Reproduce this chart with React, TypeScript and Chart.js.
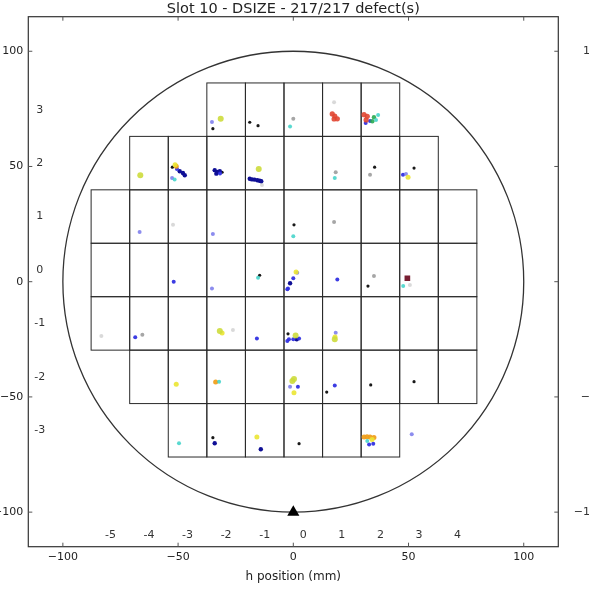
import React, { useEffect, useRef } from "react";
import { Chart, registerables } from "chart.js";

Chart.register(...registerables);

// ---------- text ----------
const titleText = "Slot 10 - DSIZE - 217/217 defect(s)";
const xAxisLabel = "h position (mm)";

// ---------- axes ----------
const axisMin = -115;
const axisMax = 115;
const axisTicks = [-100, -50, 0, 50, 100];
const neighbourTicks = [100, 50, 0, -50, -100];

// ---------- wafer / die layout (mm) ----------
const waferRadius = 100;
const notchPoint = [[0, -100]];
const dieWidth = 16.74;
const dieHeight = 23.19;
const dieOriginX = -4.04;
const dieOriginY = -6.51;
const dieRows = [3, 2, 1, 0, -1, -2, -3];
const dieColFirst = [-2, -4, -5, -5, -5, -4, -3];
const dieColLast = [2, 3, 4, 4, 4, 4, 2];
const colLabels = [-5, -4, -3, -2, -1, 0, 1, 2, 3, 4];
const rowLabels = [3, 2, 1, 0, -1, -2, -3];
const labelLine = -110;

// ---------- defects (x mm, y mm) ----------
const blackPts = [
  [-34.9, 66.4], [-18.9, 69.2], [-15.3, 67.7], [-52.5, 49.7], [-30.9, 47.5],
  [35.3, 49.7], [52.4, 49.3], [0.3, 24.7], [-14.6, 2.8], [32.4, -1.9],
  [-2.3, -22.6], [14.5, -47.9], [33.6, -44.8], [52.4, -43.4], [-34.9, -67.7], [2.5, -70.3],
];
const grayPts = [
  [0, 70.7], [33.3, 46.4], [17.7, 25.9], [35.0, 2.5], [-65.5, -23.0], [18.4, 47.5],
];
const faintPts = [
  [-52.2, 24.7], [-83.3, -23.6], [17.7, 77.9], [-26.2, -21.0], [-13.6, 42.0], [50.6, -1.4],
];
const darkBluePts = [
  [-49.3, 47.9], [-47.9, 47.2], [-47.1, 46.2], [-34.1, 48.4], [-33.0, 47.6], [-31.9, 47.9],
  [-33.4, 46.9], [-18.9, 44.7], [-17.9, 44.4], [-16.8, 44.3], [-15.6, 44.0], [-14.6, 43.8],
  [-13.9, 43.6], [-1.4, -0.7], [1.5, -25.0], [-14.1, -72.7], [-34.1, -70.1],
];
const bluePts = [
  [-50.5, 48.9], [-31.8, 47.0], [47.6, 46.4], [31.4, 68.9], [33.3, 69.7], [-51.9, 0.0],
  [0, 1.5], [-2.3, -3.0], [-2.6, -3.3], [19.1, 1.0], [-68.6, -24.1], [-15.8, -24.6],
  [-1.9, -25.0], [0, -25.0], [2.5, -24.7], [-2.6, -25.7], [2.0, -45.6], [18.0, -45.0],
  [32.9, -70.6], [34.7, -70.3],
];
const lavenderPts = [
  [-35.3, 69.3], [48.9, 46.7], [-66.7, 21.6], [-34.9, 20.7], [-35.3, -2.9], [1.7, 3.9],
  [18.4, -22.1], [-1.4, -45.6], [51.4, -66.2], [-52.6, 45.0],
];
const cyanPts = [
  [-1.4, 67.4], [35.9, 70.2], [36.8, 72.3], [-51.5, 44.3], [18.0, 45.0], [0, 19.7],
  [-15.3, 1.7], [47.7, -1.9], [-32.2, -43.4], [-49.6, -70.1], [32.1, -69.1],
];
const greenPts = [[35.0, 71.4], [34.3, 69.6]];
const yellowGreenPts = [
  [-31.5, 70.7], [-66.4, 46.2], [-15.0, 48.9], [-31.9, -21.4], [1.0, -23.3], [18.0, -25.0],
  [-0.4, -43.1], [0.3, -42.2],
];
const yellowPts = [
  [-51.3, 50.7], [49.8, 45.3], [1.2, 4.2], [-30.9, -22.3], [18.1, -24.0], [-50.8, -44.5],
  [0.3, -48.2], [-15.8, -67.4], [34.2, -68.5],
];
const orangePts = [
  [-50.8, 50.1], [-33.7, -43.5], [30.7, -67.4], [32.0, -67.3], [33.3, -67.4], [35.0, -67.6],
];
const redPts = [
  [16.9, 72.8], [18.0, 71.9], [19.1, 70.7], [17.7, 70.6], [30.7, 72.5], [32.1, 71.8], [31.6, 70.2],
];
const maroonPts = [[49.5, 1.5]];

const FONT = "'DejaVu Sans', sans-serif";
const fmt = (v: number) => (v < 0 ? "\u2212" + Math.abs(v) : String(v));
const toXY = (pts: number[][]) => pts.map(([x, y]) => ({ x, y }));

export default function App() {
  const ref = useRef<HTMLCanvasElement>(null);

  useEffect(() => {
    const canvas = ref.current;
    if (!canvas) return;

    const series = [
      { label: "faint", pts: faintPts, color: "rgba(170,170,170,0.45)", r: 2, style: "circle" },
      { label: "gray", pts: grayPts, color: "rgba(150,150,150,0.85)", r: 2, style: "circle" },
      { label: "cyan", pts: cyanPts, color: "rgba(60,210,200,0.85)", r: 2, style: "circle" },
      { label: "green", pts: greenPts, color: "rgba(40,170,80,0.9)", r: 2.2, style: "circle" },
      { label: "yellowgreen", pts: yellowGreenPts, color: "rgba(205,220,60,0.9)", r: 3, style: "circle" },
      { label: "yellow", pts: yellowPts, color: "rgba(235,230,50,0.9)", r: 2.5, style: "circle" },
      { label: "orange", pts: orangePts, color: "rgba(240,160,30,0.95)", r: 2.5, style: "circle" },
      { label: "red", pts: redPts, color: "rgba(225,70,50,0.9)", r: 2.6, style: "circle" },
      { label: "lavender", pts: lavenderPts, color: "rgba(120,120,235,0.85)", r: 2, style: "circle" },
      { label: "blue", pts: bluePts, color: "rgba(50,50,225,0.95)", r: 2, style: "circle" },
      { label: "darkblue", pts: darkBluePts, color: "rgba(15,15,150,1)", r: 2.2, style: "circle" },
      { label: "black", pts: blackPts, color: "rgba(25,25,25,1)", r: 1.6, style: "circle" },
      { label: "maroon", pts: maroonPts, color: "rgba(120,30,50,1)", r: 4, style: "rect" },
    ];

    const datasets: any[] = series.map((s) => ({
      label: s.label,
      data: toXY(s.pts),
      backgroundColor: s.color,
      borderWidth: 0,
      pointRadius: s.r,
      pointStyle: s.style,
    }));
    datasets.push({
      label: "notch",
      data: toXY(notchPoint),
      backgroundColor: "#000",
      borderColor: "#000",
      borderWidth: 0,
      pointRadius: 7,
      pointStyle: "triangle",
    });

    const waferPlugin = {
      id: "wafer",
      beforeDatasetsDraw(chart: any) {
        const { ctx, scales } = chart;
        const x = scales.x, y = scales.y;
        ctx.save();
        ctx.strokeStyle = "#2a2a2a";
        ctx.lineWidth = 1;
        dieRows.forEach((r, i) => {
          for (let c = dieColFirst[i]; c <= dieColLast[i]; c++) {
            const x0 = x.getPixelForValue(dieOriginX + c * dieWidth);
            const x1 = x.getPixelForValue(dieOriginX + (c + 1) * dieWidth);
            const y0 = y.getPixelForValue(dieOriginY + (r + 1) * dieHeight);
            const y1 = y.getPixelForValue(dieOriginY + r * dieHeight);
            ctx.strokeRect(x0, y0, x1 - x0, y1 - y0);
          }
        });
        const cx = x.getPixelForValue(0), cy = y.getPixelForValue(0);
        const rad = x.getPixelForValue(waferRadius) - cx;
        ctx.strokeStyle = "#333";
        ctx.lineWidth = 1.3;
        ctx.beginPath();
        ctx.arc(cx, cy, rad, 0, Math.PI * 2);
        ctx.stroke();
        ctx.restore();
      },
      afterDatasetsDraw(chart: any) {
        const { ctx, scales, chartArea: a } = chart;
        const x = scales.x, y = scales.y;
        ctx.save();
        // frame
        ctx.strokeStyle = "#333";
        ctx.lineWidth = 1.2;
        ctx.strokeRect(a.left, a.top, a.right - a.left, a.bottom - a.top);
        // inward ticks on all sides
        ctx.lineWidth = 1;
        ctx.strokeStyle = "#555";
        const tl = 4;
        axisTicks.forEach((v) => {
          const px = x.getPixelForValue(v);
          const py = y.getPixelForValue(v);
          ctx.beginPath();
          ctx.moveTo(px, a.bottom); ctx.lineTo(px, a.bottom - tl);
          ctx.moveTo(px, a.top); ctx.lineTo(px, a.top + tl);
          ctx.moveTo(a.left, py); ctx.lineTo(a.left + tl, py);
          ctx.moveTo(a.right, py); ctx.lineTo(a.right - tl, py);
          ctx.stroke();
        });
        // die row / column labels
        ctx.fillStyle = "#333";
        ctx.font = "11px " + FONT;
        ctx.textAlign = "center";
        ctx.textBaseline = "middle";
        colLabels.forEach((c) => {
          const px = x.getPixelForValue(dieOriginX + (c + 0.5) * dieWidth);
          ctx.fillText(String(c), px, y.getPixelForValue(labelLine));
        });
        rowLabels.forEach((r) => {
          const py = y.getPixelForValue(dieOriginY + (r + 0.5) * dieHeight);
          ctx.fillText(String(r), x.getPixelForValue(labelLine), py);
        });
        // neighbouring subplot's tick labels (clipped at the page edge)
        ctx.textAlign = "right";
        neighbourTicks.forEach((v) => {
          ctx.fillText(fmt(v), 604, y.getPixelForValue(v));
        });
        ctx.restore();
      },
    };

    const tickFont = { family: FONT, size: 11 };
    const chart = new Chart(canvas, {
      type: "scatter",
      data: { datasets },
      plugins: [waferPlugin],
      options: {
        animation: false,
        responsive: false,
        devicePixelRatio: 1,
        layout: { padding: { left: 0, top: 0, right: 30.7, bottom: 0 } },
        plugins: {
          legend: { display: false },
          tooltip: { enabled: false },
          title: {
            display: true,
            fullSize: false,
            text: titleText,
            color: "#222",
            font: { family: FONT, size: 14.5, weight: "normal", lineHeight: 1 },
            padding: { top: 2.2, bottom: 0 },
          },
        },
        scales: {
          x: {
            type: "linear",
            min: axisMin,
            max: axisMax,
            afterBuildTicks: (s: any) => { s.ticks = axisTicks.map((v) => ({ value: v })); },
            afterFit: (s: any) => { s.height = 44.3; },
            grid: { display: false, drawTicks: false },
            border: { display: false },
            ticks: { font: tickFont, color: "#222", padding: 4, maxRotation: 0, callback: (v: any) => fmt(Number(v)) },
            title: {
              display: true,
              text: xAxisLabel,
              color: "#222",
              font: { family: FONT, size: 12 },
              padding: { top: 0, bottom: 7 },
            },
          },
          y: {
            type: "linear",
            min: axisMin,
            max: axisMax,
            afterBuildTicks: (s: any) => { s.ticks = axisTicks.map((v) => ({ value: v })); },
            afterFit: (s: any) => { s.width = 28.3; },
            grid: { display: false, drawTicks: false },
            border: { display: false },
            ticks: { font: tickFont, color: "#222", padding: 5, callback: (v: any) => fmt(Number(v)) },
          },
        },
      } as any,
    });
    return () => chart.destroy();
  }, []);

  return (
    <div style={{ position: "absolute", left: 0, top: 0, width: 589, height: 591, background: "#fff" }}>
      <canvas ref={ref} width={589} height={591} style={{ display: "block" }} />
    </div>
  );
}
